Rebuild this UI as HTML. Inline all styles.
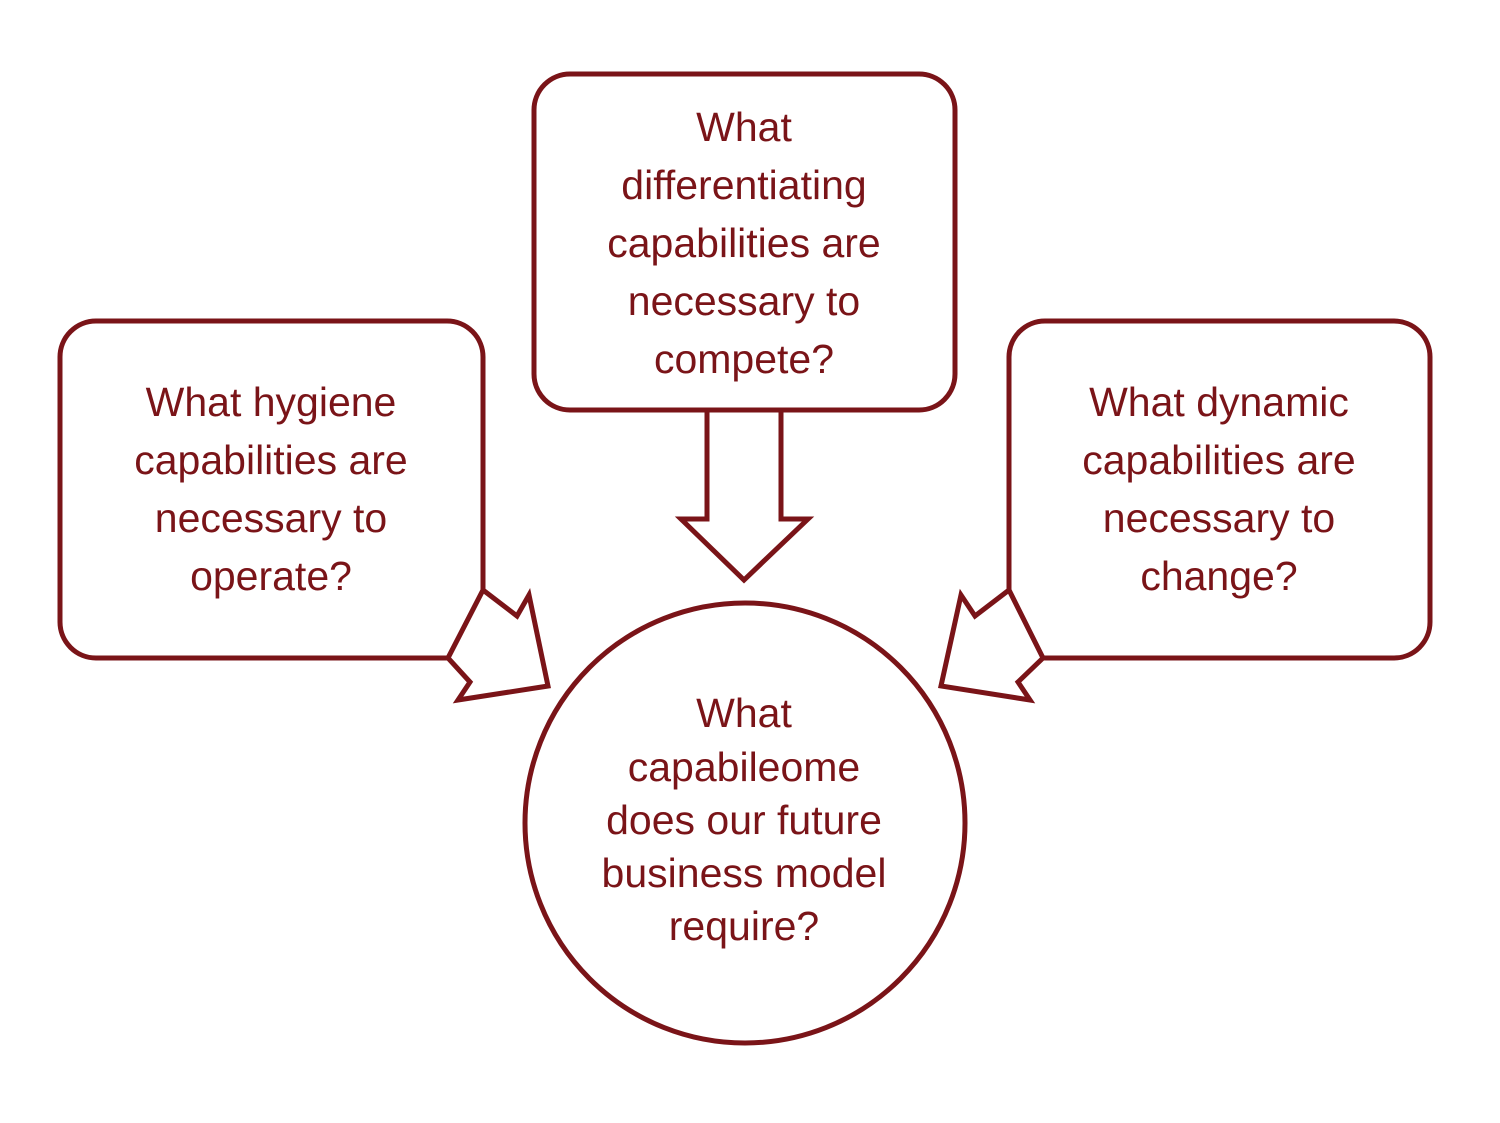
<!DOCTYPE html>
<html><head><style>
html,body{margin:0;padding:0;background:#fff}
svg text{font-family:"Liberation Sans",sans-serif;font-size:41px;fill:#7a1418;text-anchor:middle}
</style></head><body>
<svg width="1500" height="1118" viewBox="0 0 1500 1118" xmlns="http://www.w3.org/2000/svg">
<g fill="#fff" stroke="#7a1418" stroke-width="5" stroke-linejoin="miter">
<rect x="60" y="321" width="423" height="337" rx="36"/>
<rect x="534" y="74" width="421" height="336" rx="36"/>
<rect x="1009" y="321" width="421" height="337" rx="36"/>
<circle cx="745" cy="823" r="220"/>
<polygon points="707,410 707,519 681,519 744,580 808,519 781,519 781,410"/>
<polygon points="483,590 517,616 529,595 548,686 458,700 470,682 448,658"/>
<polygon points="1009,590 975,616 961,595 941,686 1030,700 1018,682 1043,658"/>
</g>
<text x="744" y="141">What</text>
<text x="744" y="199">differentiating</text>
<text x="744" y="257">capabilities are</text>
<text x="744" y="315">necessary to</text>
<text x="744" y="373">compete?</text>
<text x="271" y="416">What hygiene</text>
<text x="271" y="474">capabilities are</text>
<text x="271" y="532">necessary to</text>
<text x="271" y="590">operate?</text>
<text x="1219" y="416">What dynamic</text>
<text x="1219" y="474">capabilities are</text>
<text x="1219" y="532">necessary to</text>
<text x="1219" y="590">change?</text>
<text x="744" y="727">What</text>
<text x="744" y="781">capabileome</text>
<text x="744" y="834">does our future</text>
<text x="744" y="887">business model</text>
<text x="744" y="940">require?</text>
</svg>
</body></html>
